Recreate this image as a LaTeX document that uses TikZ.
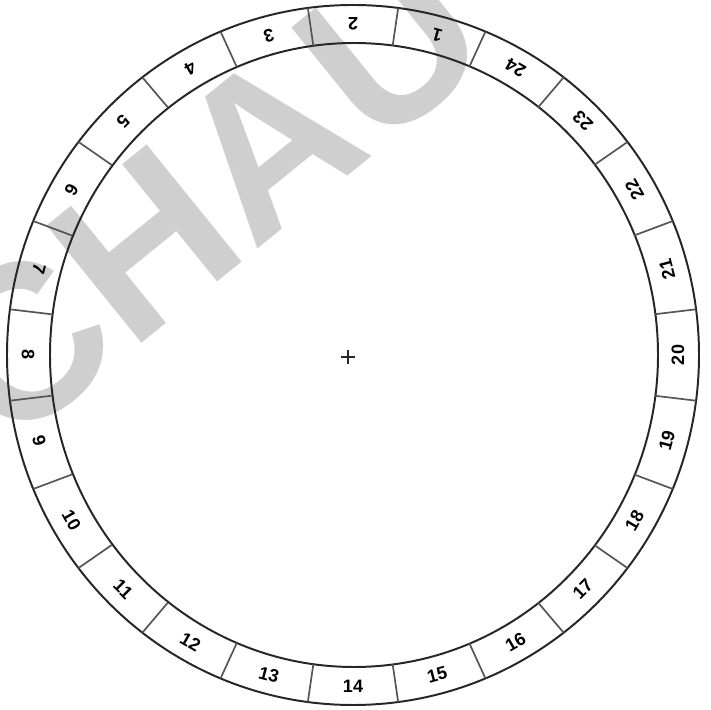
\documentclass[tikz,border=0pt]{standalone}
\usepackage{fontspec}
\setsansfont{Liberation Sans}
\usepackage{tikz}
\usetikzlibrary{calc}
\definecolor{inkdark}{HTML}{262626}
\definecolor{inkmid}{HTML}{555555}
\definecolor{markgray}{HTML}{CFCFCF}
\tikzset{
  rim/.style={draw=inkdark, line width=1.4pt},
  spoke/.style={draw=inkmid, line width=1.2pt},
  num/.style={font=\fontsize{12.8}{14}\selectfont\sffamily\bfseries, text=black, inner sep=0pt},
  wmark/.style={font=\fontsize{156}{156}\selectfont\sffamily\bfseries, text=markgray, inner sep=0pt},
}
\begin{document}
\begin{tikzpicture}[x=0.025cm, y=0.025cm]
  \useasboundingbox (0,0) rectangle (711,710);
  \clip (0,0) rectangle (711,710);
  % watermark behind the dial
  \node[wmark, rotate=39] (wm) at (149,470) {SCHAU};
  % outer and inner rim
  \coordinate (ctr) at (353,355);
  \draw[rim] (ctr) ellipse [x radius=346, y radius=350];
  \draw[rim] ($(ctr)+(1,0)$) ellipse [x radius=304, y radius=312];
  % spokes between the 24 cells
  \foreach \k in {0,...,23} {
    \pgfmathsetmacro{\a}{97.5+\k*15}
    \draw[spoke] ($(ctr)+(\a:304 and 312)$) -- ($(ctr)+(\a:346 and 350)$);
  }
  % cell numbers, 2 at the top, counting anticlockwise
  \foreach \i in {1,...,24} {
    \pgfmathsetmacro{\a}{90+(\i-2)*15}
    \node[num, rotate=\a+90] (n\i) at ($(ctr)+(\a:325 and 331)$) {\i};
  }
  % centre mark
  \draw[inkdark, line width=0.9pt] (341,353) -- (355,353) (348,346) -- (348,360);
\end{tikzpicture}
\end{document}
